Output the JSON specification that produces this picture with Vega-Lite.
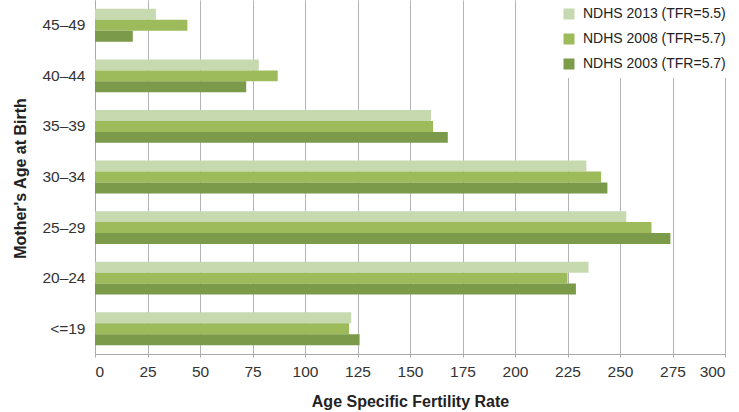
{
  "$schema": "https://vega.github.io/schema/vega-lite/v6.json",
  "autosize": {"type": "none"},
  "width": 630,
  "height": 354,
  "padding": {"left": 95, "top": 0, "right": 14, "bottom": 58},
  "background": "white",
  "config": {
    "font": "Liberation Sans",
    "view": {"stroke": null},
    "axis": {"labelFont": "Liberation Sans", "titleFont": "Liberation Sans"}
  },
  "data": {
    "values": [
      {"age": "45–49", "survey": "NDHS 2013 (TFR=5.5)", "rate": 29},
      {"age": "45–49", "survey": "NDHS 2008 (TFR=5.7)", "rate": 44},
      {"age": "45–49", "survey": "NDHS 2003 (TFR=5.7)", "rate": 18},
      {"age": "40–44", "survey": "NDHS 2013 (TFR=5.5)", "rate": 78},
      {"age": "40–44", "survey": "NDHS 2008 (TFR=5.7)", "rate": 87},
      {"age": "40–44", "survey": "NDHS 2003 (TFR=5.7)", "rate": 72},
      {"age": "35–39", "survey": "NDHS 2013 (TFR=5.5)", "rate": 160},
      {"age": "35–39", "survey": "NDHS 2008 (TFR=5.7)", "rate": 161},
      {"age": "35–39", "survey": "NDHS 2003 (TFR=5.7)", "rate": 168},
      {"age": "30–34", "survey": "NDHS 2013 (TFR=5.5)", "rate": 234},
      {"age": "30–34", "survey": "NDHS 2008 (TFR=5.7)", "rate": 241},
      {"age": "30–34", "survey": "NDHS 2003 (TFR=5.7)", "rate": 244},
      {"age": "25–29", "survey": "NDHS 2013 (TFR=5.5)", "rate": 253},
      {"age": "25–29", "survey": "NDHS 2008 (TFR=5.7)", "rate": 265},
      {"age": "25–29", "survey": "NDHS 2003 (TFR=5.7)", "rate": 274},
      {"age": "20–24", "survey": "NDHS 2013 (TFR=5.5)", "rate": 235},
      {"age": "20–24", "survey": "NDHS 2008 (TFR=5.7)", "rate": 225},
      {"age": "20–24", "survey": "NDHS 2003 (TFR=5.7)", "rate": 229},
      {"age": "<=19", "survey": "NDHS 2013 (TFR=5.5)", "rate": 122},
      {"age": "<=19", "survey": "NDHS 2008 (TFR=5.7)", "rate": 121},
      {"age": "<=19", "survey": "NDHS 2003 (TFR=5.7)", "rate": 126}
    ]
  },
  "mark": {"type": "bar"},
  "encoding": {
    "y": {
      "field": "age",
      "type": "nominal",
      "sort": ["45–49", "40–44", "35–39", "30–34", "25–29", "20–24", "<=19"],
      "scale": {"paddingInner": 0.35, "paddingOuter": 0.175},
      "axis": {
        "title": "Mother's Age at Birth",
        "titleFontSize": 16,
        "titleFontWeight": "bold",
        "titleColor": "#222",
        "titleX": -67,
        "titleY": 178,
        "labelFontSize": 15.5,
        "labelColor": "#333",
        "labelPadding": 10,
        "ticks": false,
        "domainColor": "#aaaaaa",
        "grid": false
      }
    },
    "yOffset": {
      "field": "survey",
      "type": "nominal",
      "sort": ["NDHS 2013 (TFR=5.5)", "NDHS 2008 (TFR=5.7)", "NDHS 2003 (TFR=5.7)"]
    },
    "x": {
      "field": "rate",
      "type": "quantitative",
      "scale": {"domain": [0, 300], "nice": false},
      "axis": {
        "title": "Age Specific Fertility Rate",
        "titleFontSize": 16,
        "titleFontWeight": "bold",
        "titleColor": "#222",
        "titlePadding": 14,
        "values": [0, 25, 50, 75, 100, 125, 150, 175, 200, 225, 250, 275, 300],
        "labelFontSize": 15.5,
        "labelColor": "#333",
        "labelPadding": 7,
        "tickSize": 3,
        "tickColor": "#aaaaaa",
        "domainColor": "#aaaaaa",
        "grid": true,
        "gridColor": "#b4b4b4"
      }
    },
    "color": {
      "field": "survey",
      "type": "nominal",
      "sort": ["NDHS 2013 (TFR=5.5)", "NDHS 2008 (TFR=5.7)", "NDHS 2003 (TFR=5.7)"],
      "scale": {
        "domain": ["NDHS 2013 (TFR=5.5)", "NDHS 2008 (TFR=5.7)", "NDHS 2003 (TFR=5.7)"],
        "range": ["#c7d9af", "#9dbb5b", "#7b9a4a"]
      },
      "legend": {
        "title": null,
        "orient": "none",
        "legendX": 460,
        "legendY": 0,
        "fillColor": "white",
        "padding": 7,
        "symbolType": "square",
        "symbolSize": 121,
        "symbolStrokeWidth": 0,
        "labelFontSize": 14,
        "labelColor": "#222",
        "labelOffset": 7,
        "rowPadding": 11
      }
    }
  }
}
